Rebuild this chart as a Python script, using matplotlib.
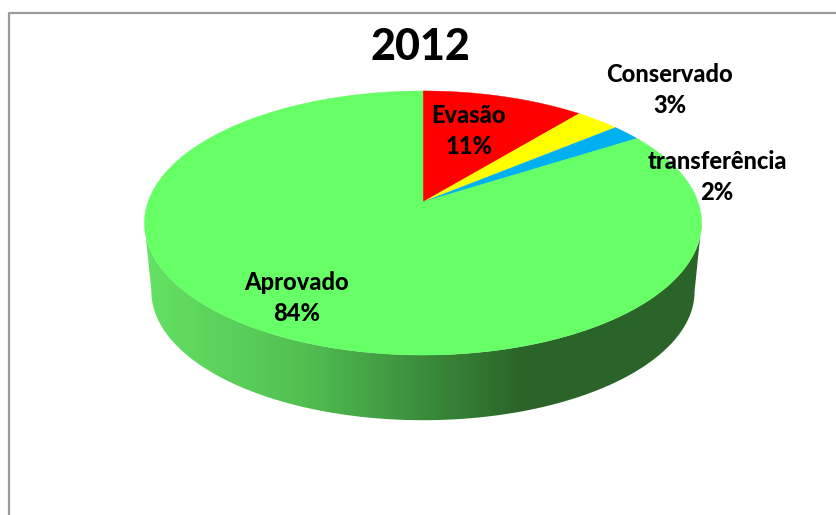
import numpy as np
import matplotlib
matplotlib.use('Agg')
import matplotlib.pyplot as plt
from matplotlib.colors import LinearSegmentedColormap
from matplotlib.patches import Polygon

title = '2012'
labels = ['Evasão', 'Conservado', 'transferência', 'Aprovado']
percents = [11, 3, 2, 84]

slice_colors = ['#FF0000', '#FFFF00', '#00B0F0', '#66FF66']
label_xy = [(469, 131), (670, 90), (717, 177), (297, 298)]

# pie geometry in pixel coordinates, tilted disc seen in perspective
center_x = 423
center_y = 202
radius_x = 275
radius_y = 128.7
tilt = 0.159
wall_y = 271
wall_scale = 0.975


def rim(angle, cy=center_y, scale=1.0):
    # angle is measured clockwise from the top of the disc
    u = np.sin(angle)
    v = np.cos(angle)
    d = 1 + tilt * v
    return center_x + scale * radius_x * u / d, cy - scale * radius_y * v / d


plt.rcParams['font.family'] = ['Lato', 'DejaVu Sans']
fig = plt.figure(figsize=(8.37, 5.15), dpi=100)
ax = fig.add_axes([0, 0, 1, 1])

# chart frame, runs off the right and bottom of the canvas
ax.plot([9.5, 9.5, 840], [520, 12.5, 12.5], color='#9A9A9A', lw=1.6, zorder=1)

# side wall of the disc, shaded from left to right
turn = np.arcsin(tilt)
lower = np.linspace(np.pi / 2 + turn, 3 * np.pi / 2 - turn, 200)
top_x, top_y = rim(lower)
bot_x, bot_y = rim(lower, wall_y, wall_scale)
wall_shape = Polygon(np.column_stack([np.r_[top_x, bot_x[::-1]], np.r_[top_y, bot_y[::-1]]]),
                     closed=True, transform=ax.transData, fc='none', ec='none')
ax.add_patch(wall_shape)
wall_cmap = LinearSegmentedColormap.from_list('wall', [
    (0.00, '#64E264'),
    (0.28, '#52C052'),
    (0.50, '#3C8C3C'),
    (0.68, '#2A6428'),
    (1.00, '#2A6428'),
])
gradient = np.linspace(0, 1, 557).reshape(1, -1)
wall = ax.imshow(gradient, cmap=wall_cmap, extent=[145, 702, 430, 215], aspect='auto', zorder=2)
wall.set_clip_path(wall_shape)

# top face, one polygon per slice
start = 0.0
for value, color in zip(percents, slice_colors):
    stop = start + 2 * np.pi * value / sum(percents)
    angles = np.linspace(start, stop, max(int(value * 6), 12))
    xs, ys = rim(angles)
    ax.fill(np.r_[center_x, xs], np.r_[center_y, ys], color=color, lw=0.3, zorder=3)
    start = stop

for name, value, (x, y) in zip(labels, percents, label_xy):
    ax.text(x, y, f'{name}\n{value}%', ha='center', va='center', fontsize=17,
            fontweight='black', linespacing=1.47, color='black', zorder=4)

ax.text(420, 47, title, ha='center', va='center', fontsize=31, fontweight='black', zorder=4)

ax.set_xlim(0, 837)
ax.set_ylim(515, 0)
ax.axis('off')

fig.savefig('out.png', dpi=100, facecolor='white')
